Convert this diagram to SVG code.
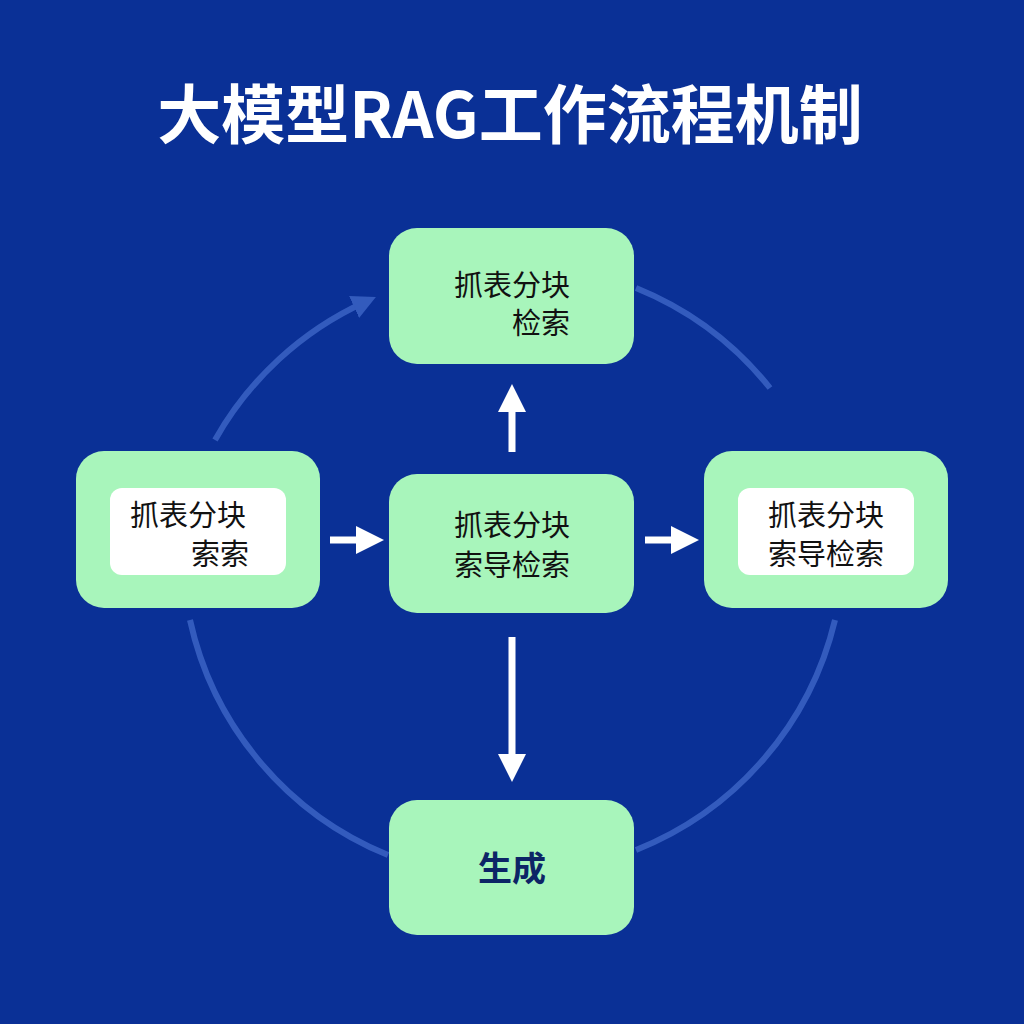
<svg xmlns="http://www.w3.org/2000/svg" width="1024" height="1024" viewBox="0 0 1024 1024">
<defs>
<marker id="ah" markerWidth="4" markerHeight="4" refX="2" refY="2" orient="auto" markerUnits="strokeWidth"><path d="M0,0 L4,2 L0,4 z" fill="#ffffff"/></marker>
<marker id="ch" markerWidth="4" markerHeight="4" refX="2" refY="2" orient="auto" markerUnits="strokeWidth"><path d="M0,0 L4,2 L0,4 z" fill="#3b63c4"/></marker>
</defs>
<style>
.node{fill:#a8f5bb}
.inner{fill:#ffffff}
.t{font-family:"Noto Sans CJK SC","Noto Sans",sans-serif;font-size:29px;fill:#111;text-anchor:middle}
.b{font-family:"Noto Sans CJK SC",sans-serif;font-size:34px;font-weight:bold;fill:#0d2466;text-anchor:middle}
.arr{stroke:#fff;stroke-width:7;fill:none;marker-end:url(#ah)}
.ring{stroke:#3b63c4;stroke-width:6;fill:none;opacity:0.85}
</style>
<rect width="1024" height="1024" fill="#0a3096"/>
<text x="510" y="138" font-family="Noto Sans CJK SC,sans-serif" font-size="64" font-weight="bold" fill="#fff" text-anchor="middle">大模型RAG工作流程机制</text>
<g id="connectors">
<path class="ring" d="M215,440 A330,330 0 0 1 365,302" marker-end="url(#ch)"/>
<path class="ring" d="M636,288 A330,330 0 0 1 770,388"/>
<path class="ring" d="M835,620 A330,330 0 0 1 636,850"/>
<path class="ring" d="M388,855 A330,330 0 0 1 190,620"/>
<path class="arr" d="M512,452 L512,398"/>
<path class="arr" d="M330,540 L370,540"/>
<path class="arr" d="M645,540 L685,540"/>
<path class="arr" d="M512,637 L512,768"/>
</g>
<g id="top"><rect class="node" x="389" y="228" width="245" height="136" rx="28"/>
<text class="t" x="512" y="296">抓表分块</text><text class="t" x="541" y="334">检索</text></g>
<g id="left"><rect class="node" x="76" y="451" width="244" height="157" rx="28"/>
<rect class="inner" x="110" y="488" width="176" height="87" rx="12"/>
<text class="t" x="188" y="526">抓表分块</text><text class="t" x="220" y="565">索索</text></g>
<g id="center"><rect class="node" x="389" y="474" width="245" height="139" rx="28"/>
<text class="t" x="512" y="536">抓表分块</text><text class="t" x="512" y="576">索导检索</text></g>
<g id="right"><rect class="node" x="704" y="451" width="244" height="157" rx="28"/>
<rect class="inner" x="738" y="488" width="176" height="87" rx="12"/>
<text class="t" x="826" y="526">抓表分块</text><text class="t" x="826" y="565">索导检索</text></g>
<g id="bottom"><rect class="node" x="389" y="800" width="245" height="135" rx="28"/>
<text class="b" x="512" y="881">生成</text></g>
</svg>
